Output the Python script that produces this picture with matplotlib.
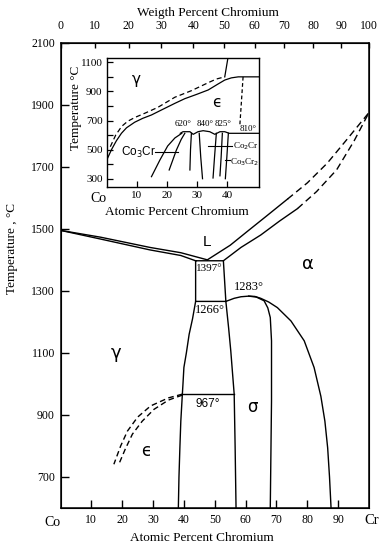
import numpy as np
import matplotlib
matplotlib.use("Agg")
import matplotlib.pyplot as plt

plt.rcParams['font.family'] = ['Liberation Serif', 'DejaVu Serif']

# ---------------- data (atomic % Cr, temperature in C) ----------------
temp_ticks = [700, 900, 1100, 1300, 1500, 1700, 1900, 2100]
at_ticks = [10, 20, 30, 40, 50, 60, 70, 80, 90]
wt_ticks = [0, 10, 20, 30, 40, 50, 60, 70, 80, 90, 100]

liq_left_up_x = [0, 13, 29, 39, 47.6]
liq_left_up_t = [1495, 1473, 1440, 1423, 1400]
liq_left_lo_x = [0, 13, 29, 39, 43.8]
liq_left_lo_t = [1495, 1467, 1432, 1414, 1397]

liq_right_up_x = [47.6, 55, 60.6, 67, 73.6]
liq_right_up_t = [1400, 1447, 1492, 1543, 1596]
liq_right_up_dx = [73.6, 80, 86.5, 92.5, 100]
liq_right_up_dt = [1596, 1648, 1712, 1784, 1875]
liq_right_lo_x = [52.8, 58.5, 64.9, 71, 76.8]
liq_right_lo_t = [1397, 1440, 1480, 1525, 1565]
liq_right_lo_dx = [76.8, 83, 89.5, 95.2, 100]
liq_right_lo_dt = [1565, 1620, 1690, 1784, 1875]

box_x = [43.8, 52.8, 53.6, 43.8, 43.8]
box_t = [1397, 1397, 1266, 1266, 1397]

gam_bound_x = [43.8, 42.8, 41.7, 40.8, 40.0, 39.7, 39.5, 39.0, 38.7, 38.4, 38.2]
gam_bound_t = [1266, 1210, 1160, 1100, 1053, 1000, 967, 880, 795, 700, 600]
sig_left_x = [53.6, 54.5, 55.2, 55.8, 56.3, 56.6, 56.9]
sig_left_t = [1266, 1180, 1106, 1030, 967, 800, 600]

eutectoid_x = [39.5, 56.3]
eutectoid_t = [967, 967]

eps_up_x = [39.5, 35, 29.2, 25, 21.7, 19.5, 17.3]
eps_up_t = [967, 955, 929, 893, 848, 800, 741]
eps_lo_x = [39.5, 35, 30.3, 26.5, 23.3, 21, 18.9]
eps_lo_t = [964, 948, 918, 880, 838, 790, 741]

dome_out_x = [53.6, 56.3, 58.5, 61, 63, 64.9, 67.5, 70.3, 74.7, 79, 82.2, 84.4, 85.7, 86.6, 87.2, 87.7]
dome_out_t = [1266, 1276, 1281, 1283, 1282, 1276, 1264, 1246, 1203, 1139, 1053, 960, 880, 794, 700, 600]
dome_in_x = [61, 63.5, 66, 67.2, 68, 68.4, 68.4, 68]
dome_in_t = [1283, 1280, 1268, 1245, 1214, 1139, 945, 600]

# ---------------- inset data ----------------
in_temp_ticks = [300, 400, 500, 600, 700, 800, 900, 1000, 1100]
in_temp_labels = ['300', '', '500', '', '700', '', '900', '', '1100']
in_at_ticks = [10, 20, 30, 40]

in_solid_x = [0, 1.6, 3.2, 4.9, 6.6, 9.3, 12, 14.9, 18, 22.7, 26, 30, 33.8, 37, 39.3, 41.5, 43.8, 50.7]
in_solid_t = [428, 500, 560, 612, 650, 688, 715, 738, 770, 818, 850, 880, 910, 950, 978, 993, 1000, 1000]
in_dash_x = [1.2, 3.0, 5.0, 7.0, 9.5, 12.7, 17, 22.7, 26, 28.2, 33.8, 36.5, 39.3]
in_dash_t = [520, 600, 660, 695, 722, 750, 790, 860, 887, 905, 960, 985, 1000]
in_vert_x = [40.4, 39.3]
in_vert_t = [1135, 1000]
in_vdash_x = [45.4, 44.3]
in_vdash_t = [1000, 660]

in_c1_x = [14.9, 17.7, 20.3, 22.7, 25]
in_c1_t = [314, 428, 525, 580, 612]
in_c2_x = [20.8, 23.2, 24.8, 26]
in_c2_t = [360, 497, 570, 612]
in_l3_x = [27.7, 27.9, 28.2]
in_l3_t = [360, 500, 612]
in_l4_x = [31.9, 31.3, 30.8]
in_l4_t = [300, 450, 612]
in_l5_x = [35.4, 35.9, 36.5]
in_l5_t = [305, 450, 612]
in_l6_x = [37.7, 38.1, 38.5]
in_l6_t = [320, 450, 612]
in_l7_x = [39.5, 40.0, 40.5]
in_l7_t = [300, 450, 612]
in_plat_x = [24.5, 25.4, 27.7, 28.8, 30.4, 32.1, 34.3, 36, 37.7, 39.3, 40.8, 44.3, 50.7]
in_plat_t = [612, 623, 623, 605, 623, 630, 623, 605, 623, 623, 612, 612, 612]

# ---------------- figure ----------------
fig = plt.figure(figsize=(3.85, 5.5), dpi=100)
W, H = 385.0, 550.0
ax = fig.add_axes([60.5 / W, 1 - 508 / H, (369 - 60.5) / W, (508 - 42.7) / H])
ax.set_xlim(0, 100)
ax.set_ylim(600, 2100)

lw = 1.0
k = 'black'
ax.plot(liq_left_up_x, liq_left_up_t, color=k, lw=lw)
ax.plot(liq_left_lo_x, liq_left_lo_t, color=k, lw=lw)
ax.plot(liq_right_up_x, liq_right_up_t, color=k, lw=lw)
ax.plot(liq_right_up_dx, liq_right_up_dt, color=k, lw=lw, dashes=(5, 3))
ax.plot(liq_right_lo_x, liq_right_lo_t, color=k, lw=lw)
ax.plot(liq_right_lo_dx, liq_right_lo_dt, color=k, lw=lw, dashes=(5, 3))
ax.plot(box_x, box_t, color=k, lw=lw)
ax.plot(gam_bound_x, gam_bound_t, color=k, lw=lw)
ax.plot(sig_left_x, sig_left_t, color=k, lw=lw)
ax.plot(eutectoid_x, eutectoid_t, color=k, lw=lw)
ax.plot(eps_up_x, eps_up_t, color=k, lw=lw, dashes=(4, 2.5))
ax.plot(eps_lo_x, eps_lo_t, color=k, lw=lw, dashes=(4, 2.5))
ax.plot(dome_out_x, dome_out_t, color=k, lw=lw)
ax.plot(dome_in_x, dome_in_t, color=k, lw=lw)

ax.set_yticks(temp_ticks)
ax.set_yticklabels([str(t) for t in temp_ticks])
ax.set_xticks(at_ticks)
ax.set_xticklabels([str(t) for t in at_ticks])
ax.tick_params(axis='both', direction='in', length=6, width=1.0, labelsize=8.5, pad=4)
for s in ax.spines.values():
    s.set_linewidth(1.1)

# weight percent top axis (converted from atomic percent)
M_CO, M_CR = 58.93, 52.00
wt = np.array(wt_ticks, dtype=float)
with np.errstate(divide='ignore', invalid='ignore'):
    at_pos = 100 * (wt / M_CR) / (wt / M_CR + (100 - wt) / M_CO)
ax2 = ax.twiny()
ax2.set_xlim(0, 100)
ax2.set_xticks(at_pos)
ax2.set_xticklabels([str(w) for w in wt_ticks])
ax2.tick_params(axis='x', direction='in', length=3.5, width=1.0, labelsize=8.5, pad=8)

sans = ['DejaVu Sans']
ax.text(47.4, 1456, 'L', family=['Liberation Sans'], fontsize=11, ha='center', va='center')
ax.text(80.1, 1386, 'α', family=sans, fontsize=13, ha='center', va='center')
ax.text(17.9, 1101, 'γ', family=sans, fontsize=13, ha='center', va='center')
ax.text(62.2, 924, 'σ', family=sans, fontsize=12, ha='center', va='center')
ax.text(27.8, 784, 'ϵ', family=sans, fontsize=12, ha='center', va='center')
ax.text(48.3, 1372, '1397°', fontsize=8, ha='center', va='center')
ax.text(48.4, 1238, '1266°', fontsize=9, ha='center', va='center')
ax.text(61.1, 1313, '1283°', fontsize=9, ha='center', va='center')
ax.text(47.6, 935, '967°', family=['Liberation Sans'], fontsize=8.5, ha='center', va='center')

fig.text(52 / W, 1 - 522 / H, 'Co', fontsize=10, ha='center', va='center')
fig.text(372 / W, 1 - 521 / H, 'Cr', fontsize=10.5, ha='center', va='center')
fig.text(202 / W, 1 - 538 / H, 'Atomic Percent Chromium', fontsize=9.5, ha='center', va='center')
fig.text(208 / W, 1 - 13 / H, 'Weigth Percent Chromium', fontsize=9.5, ha='center', va='center')
fig.text(12 / W, 1 - 248 / H, 'Temperature , °C', fontsize=9.5, rotation=90, ha='center', va='center')

# ---------------- inset ----------------
ix = fig.add_axes([106.7 / W, 1 - 187 / H, (259 - 106.7) / W, (187 - 57.5) / H], zorder=5)
ix.set_facecolor('white')
ix.set_xlim(0, 50.7)
ix.set_ylim(243, 1133)
ilw = 0.9
ix.plot(in_solid_x, in_solid_t, color=k, lw=ilw)
ix.plot(in_dash_x, in_dash_t, color=k, lw=ilw, dashes=(4, 2.5))
ix.plot(in_vert_x, in_vert_t, color=k, lw=ilw)
ix.plot(in_vdash_x, in_vdash_t, color=k, lw=ilw, dashes=(3, 2))
for xs, ts in [(in_c1_x, in_c1_t), (in_c2_x, in_c2_t), (in_l3_x, in_l3_t),
               (in_l4_x, in_l4_t), (in_l5_x, in_l5_t), (in_l6_x, in_l6_t),
               (in_l7_x, in_l7_t), (in_plat_x, in_plat_t)]:
    ix.plot(xs, ts, color=k, lw=ilw)
ix.plot([16, 23.7], [483, 483], color=k, lw=0.8)
ix.plot([33.7, 41.7], [525, 525], color=k, lw=0.8)
ix.plot([39.5, 41.0], [430, 430], color=k, lw=0.8)

ix.set_yticks(in_temp_ticks)
ix.set_yticklabels(in_temp_labels)
ix.set_xticks(in_at_ticks)
ix.set_xticklabels([str(t) for t in in_at_ticks])
ix.tick_params(axis='both', direction='in', length=4, width=0.9, labelsize=8, pad=3)
for s in ix.spines.values():
    s.set_linewidth(1.0)

ix.text(9.9, 985, 'γ', family=sans, fontsize=11, ha='center', va='center')
ix.text(36.6, 822, 'ϵ', family=sans, fontsize=11, ha='center', va='center')
ix.text(25.3, 676, '620°', fontsize=6.5, ha='center', va='center')
ix.text(32.7, 676, '840°', fontsize=6.5, ha='center', va='center')
ix.text(38.7, 676, '825°', fontsize=6.5, ha='center', va='center')
ix.text(47.2, 641, '810°', fontsize=6.5, ha='center', va='center')
ix.text(10.7, 483, 'Co$_3$Cr', family=['Liberation Sans'], fontsize=8.5, ha='center', va='center')
ix.text(42.0, 525, 'Co$_2$Cr', fontsize=6.5, ha='left', va='center')
ix.text(41.0, 415, 'Co$_3$Cr$_2$', fontsize=6.5, ha='left', va='center')

fig.text(98 / W, 1 - 198 / H, 'Co', fontsize=10, ha='center', va='center')
fig.text(177 / W, 1 - 212 / H, 'Atomic Percent Chromium', fontsize=9.5, ha='center', va='center')
fig.text(76 / W, 1 - 108 / H, 'Temperature °C', fontsize=9.5, rotation=90, ha='center', va='center')

fig.savefig('out.png', dpi=100)
